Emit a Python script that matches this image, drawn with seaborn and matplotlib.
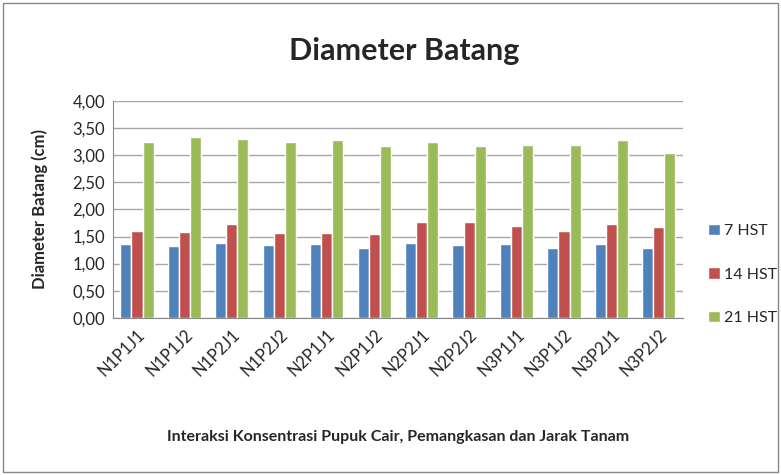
import matplotlib
matplotlib.use("Agg")
import matplotlib.pyplot as plt
from matplotlib.patches import Rectangle
import seaborn as sns
import pandas as pd

# data
categories = ["N1P1J1", "N1P1J2", "N1P2J1", "N1P2J2", "N2P1J1", "N2P1J2",
              "N2P2J1", "N2P2J2", "N3P1J1", "N3P1J2", "N3P2J1", "N3P2J2"]
hst_7 = [1.36, 1.32, 1.39, 1.34, 1.36, 1.28, 1.39, 1.34, 1.37, 1.28, 1.36, 1.29]
hst_14 = [1.61, 1.59, 1.73, 1.57, 1.57, 1.55, 1.77, 1.77, 1.69, 1.61, 1.73, 1.67]
hst_21 = [3.25, 3.33, 3.31, 3.25, 3.29, 3.17, 3.25, 3.17, 3.19, 3.19, 3.29, 3.05]
series = ["7 HST", "14 HST", "21 HST"]
colors = ["#4F81BD", "#C0504D", "#9BBB59"]
yticks = [0, 0.5, 1.0, 1.5, 2.0, 2.5, 3.0, 3.5, 4.0]

rows = []
for name, vals in zip(series, [hst_7, hst_14, hst_21]):
    for cat, v in zip(categories, vals):
        rows.append({"kategori": cat, "seri": name, "nilai": v})
df = pd.DataFrame(rows)

sns.set_style("white")
plt.rcParams["font.family"] = ["Lato", "DejaVu Sans"]

fig = plt.figure(figsize=(7.81, 4.75), dpi=100)
ax = fig.add_axes([0.145, 0.331, 0.729, 0.456])

sns.barplot(data=df, x="kategori", y="nilai", hue="seri", hue_order=series,
            palette=colors, width=0.7, gap=0, ax=ax, saturation=1, legend=True)

ax.set_ylim(0, 4.0)
ax.set_yticks(yticks)
ax.set_yticklabels([f"{t:.2f}".replace(".", ",") for t in yticks], fontsize=12)
ax.yaxis.grid(True, color="#A6A6A6", linewidth=1)
ax.set_axisbelow(True)
ax.set_xlim(-0.5, len(categories) - 0.5)
ax.set_xticks(range(len(categories)))
ax.set_xticklabels(categories, rotation=45, ha="right", rotation_mode="anchor",
                   fontsize=12)
ax.tick_params(axis="y", length=4, color="#888888", pad=2)
ax.tick_params(axis="x", length=0, pad=6)
for side in ["top", "right"]:
    ax.spines[side].set_visible(False)
for side in ["left", "bottom"]:
    ax.spines[side].set_color("#888888")

ax.set_xlabel("Interaksi Konsentrasi Pupuk Cair, Pemangkasan dan Jarak Tanam",
              fontsize=11.5, fontweight="bold")
ax.xaxis.set_label_coords(0.5, -0.52)
ax.set_ylabel("Diameter Batang (cm)", fontsize=12, fontweight="bold")
ax.yaxis.set_label_coords(-0.115, 0.5)
fig.text(0.517, 0.893, "Diameter Batang", ha="center", va="center",
         fontsize=22, fontweight="bold")

leg = ax.legend(loc="center left", bbox_to_anchor=(1.02, 0.2), frameon=False,
                fontsize=11.5, labelspacing=1.85, handlelength=0.7,
                handleheight=0.7, handletextpad=0.3)

fig.patches.append(Rectangle((0.004, 0.006), 0.992, 0.988, transform=fig.transFigure,
                             fill=False, edgecolor="#888888", linewidth=1))

fig.savefig("out.png", dpi=100)
